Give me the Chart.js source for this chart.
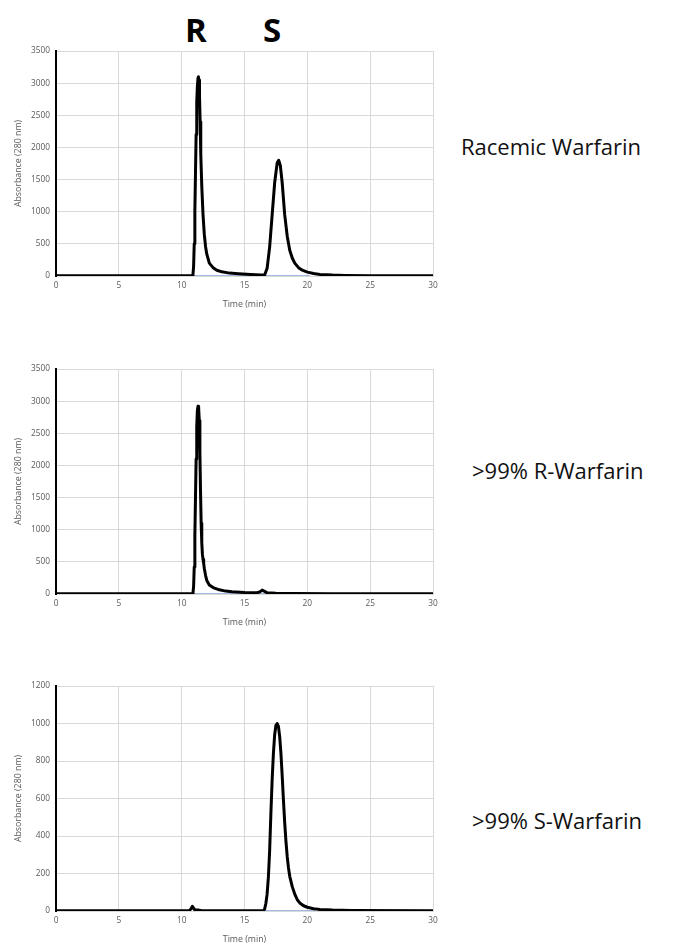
<!DOCTYPE html>
<html>
<head>
<meta charset="utf-8">
<script src="https://cdn.jsdelivr.net/npm/chart.js@4.4.1/dist/chart.umd.min.js"></script>
<style>
  html, body { margin: 0; padding: 0; background: #fff; overflow: hidden; }
  body { width: 673px; height: 944px; position: relative; font-family: "Open Sans", sans-serif; }
  .box { position: absolute; left: 0; width: 445px; height: 272px; }
  .label { position: absolute; font-size: 22px; line-height: 22px; color: #111; white-space: nowrap; }
  .peak { position: absolute; font-size: 33px; line-height: 33px; font-weight: bold; color: #000; }
</style>
</head>
<body>
<div class="peak" style="left:185px; top:13px;">R</div>
<div class="peak" style="left:263px; top:13px;">S</div>

<div class="box" style="top:40px;"><canvas id="chartRacemic"></canvas></div>
<div class="box" style="top:358px;"><canvas id="chartR"></canvas></div>
<div class="box" style="top:675px;"><canvas id="chartS"></canvas></div>

<div class="label" style="left:461px; top:135px;">Racemic Warfarin</div>
<div class="label" style="left:472px; top:459px;">&gt;99% R-Warfarin</div>
<div class="label" style="left:472px; top:809px;">&gt;99% S-Warfarin</div>

<script>
// Racemic warfarin trace (time in min, absorbance at 280 nm)
const racemicTime = [0, 5, 10, 10.85, 10.9, 10.95, 11.0, 11.05, 11.1, 11.15, 11.2, 11.25, 11.3, 11.33, 11.38, 11.42, 11.47, 11.52, 11.6, 11.7, 11.8, 11.9, 12.0, 12.2, 12.5, 12.8, 13.2, 13.8, 14.5, 15.5, 16.3, 16.6, 16.8, 17.0, 17.2, 17.4, 17.6, 17.72, 17.85, 18.0, 18.2, 18.4, 18.6, 18.8, 19.0, 19.3, 19.6, 20.0, 20.5, 21.0, 22.0, 23.0, 25.0, 30.0];
const racemicAbs = [2, 2, 2, 3, 25, 150, 500, 1000, 1600, 2200, 2700, 2950, 3080, 3100, 3050, 2800, 2400, 1900, 1400, 950, 650, 460, 340, 200, 130, 90, 65, 45, 35, 25, 15, 15, 120, 450, 950, 1450, 1760, 1800, 1720, 1450, 950, 620, 400, 280, 200, 130, 90, 60, 38, 25, 14, 9, 5, 2];
const racemicBaseX = [10.9, 20.2];
const racemicBaseY = [0, 0];

// >99% R-warfarin trace
const rTime = [0, 5, 10, 10.85, 10.9, 10.95, 11.0, 11.05, 11.1, 11.15, 11.2, 11.25, 11.3, 11.35, 11.4, 11.45, 11.5, 11.55, 11.6, 11.65, 11.7, 11.75, 11.8, 11.9, 12.0, 12.2, 12.5, 13.0, 13.5, 14.0, 15.0, 16.0, 16.2, 16.4, 16.6, 16.8, 17.5, 19.0, 22.0, 30.0];
const rAbs = [2, 2, 2, 3, 15, 120, 420, 900, 1500, 2100, 2600, 2850, 2920, 2900, 2700, 2200, 1600, 1100, 800, 620, 540, 480, 400, 290, 210, 140, 100, 65, 45, 35, 25, 20, 30, 60, 40, 18, 12, 8, 5, 2];
const rBaseX = [10.9, 17.0];
const rBaseY = [0, 0];

// >99% S-warfarin trace
const sTime = [0, 5, 10, 10.6, 10.75, 10.85, 10.95, 11.05, 11.3, 11.6, 14.0, 16.5, 16.6, 16.7, 16.8, 16.9, 17.0, 17.1, 17.2, 17.3, 17.4, 17.5, 17.6, 17.7, 17.8, 17.9, 18.0, 18.1, 18.2, 18.3, 18.4, 18.5, 18.6, 18.8, 19.0, 19.2, 19.4, 19.7, 20.0, 20.5, 21.0, 22.0, 23.5, 30.0];
const sAbs = [1, 1, 1, 1, 12, 25, 15, 5, 6, 2, 1, 1, 10, 40, 90, 180, 320, 520, 700, 840, 940, 990, 1000, 985, 930, 840, 720, 590, 470, 370, 290, 230, 185, 130, 90, 60, 43, 28, 20, 12, 8, 5, 3, 1];
const sBaseX = [16.6, 20.6];
const sBaseY = [0, 0];

const xTicks = [0, 5, 10, 15, 20, 25, 30];

function pairs(xs, ys) {
  return xs.map((x, i) => ({ x: x, y: ys[i] }));
}

function makeChart(id, time, abs, baseX, baseY, yMax, yStep) {
  const ctx = document.getElementById(id).getContext('2d');
  const tickFont = { family: 'Open Sans', size: 8.3 };
  const titleFont = { family: 'Open Sans', size: 8.8 };
  return new Chart(ctx, {
    type: 'scatter',
    data: {
      datasets: [
        {
          label: 'trace',
          data: pairs(time, abs),
          showLine: true,
          borderColor: '#000',
          backgroundColor: '#000',
          borderWidth: 3,
          borderJoinStyle: 'round',
          borderCapStyle: 'round',
          pointRadius: 0,
          tension: 0,
          order: 1
        },
        {
          label: 'baseline',
          data: pairs(baseX, baseY),
          showLine: true,
          borderColor: '#4472C4',
          borderWidth: 1,
          pointRadius: 0,
          order: 2
        }
      ]
    },
    options: {
      responsive: true,
      maintainAspectRatio: false,
      animation: false,
      layout: { padding: { top: 11, right: 12, left: 0, bottom: 0 } },
      plugins: {
        legend: { display: false },
        tooltip: { enabled: false }
      },
      scales: {
        x: {
          type: 'linear',
          min: 0,
          max: 30,
          afterBuildTicks: axis => { axis.ticks = xTicks.map(v => ({ value: v })); },
          afterFit: axis => { axis.height = 36; },
          grid: { color: '#d9d9d9', drawTicks: false },
          border: { color: '#d9d9d9' },
          ticks: { color: '#595959', font: tickFont, padding: 5, maxRotation: 0, callback: v => String(v) },
          title: {
            display: true,
            text: 'Time (min)',
            color: '#595959',
            font: titleFont,
            padding: { top: 0, bottom: 2 }
          }
        },
        y: {
          min: 0,
          max: yMax,
          afterFit: axis => { axis.width = 56; },
          grid: { color: '#d9d9d9', drawTicks: false },
          border: { color: '#000', width: 2 },
          ticks: { stepSize: yStep, color: '#595959', font: tickFont, padding: 6, callback: v => String(v) },
          title: {
            display: true,
            text: 'Absorbance (280 nm)',
            color: '#595959',
            font: titleFont,
            padding: { top: 13, bottom: 0 }
          }
        }
      }
    }
  });
}

makeChart('chartRacemic', racemicTime, racemicAbs, racemicBaseX, racemicBaseY, 3500, 500);
makeChart('chartR', rTime, rAbs, rBaseX, rBaseY, 3500, 500);
makeChart('chartS', sTime, sAbs, sBaseX, sBaseY, 1200, 200);
</script>
</body>
</html>
